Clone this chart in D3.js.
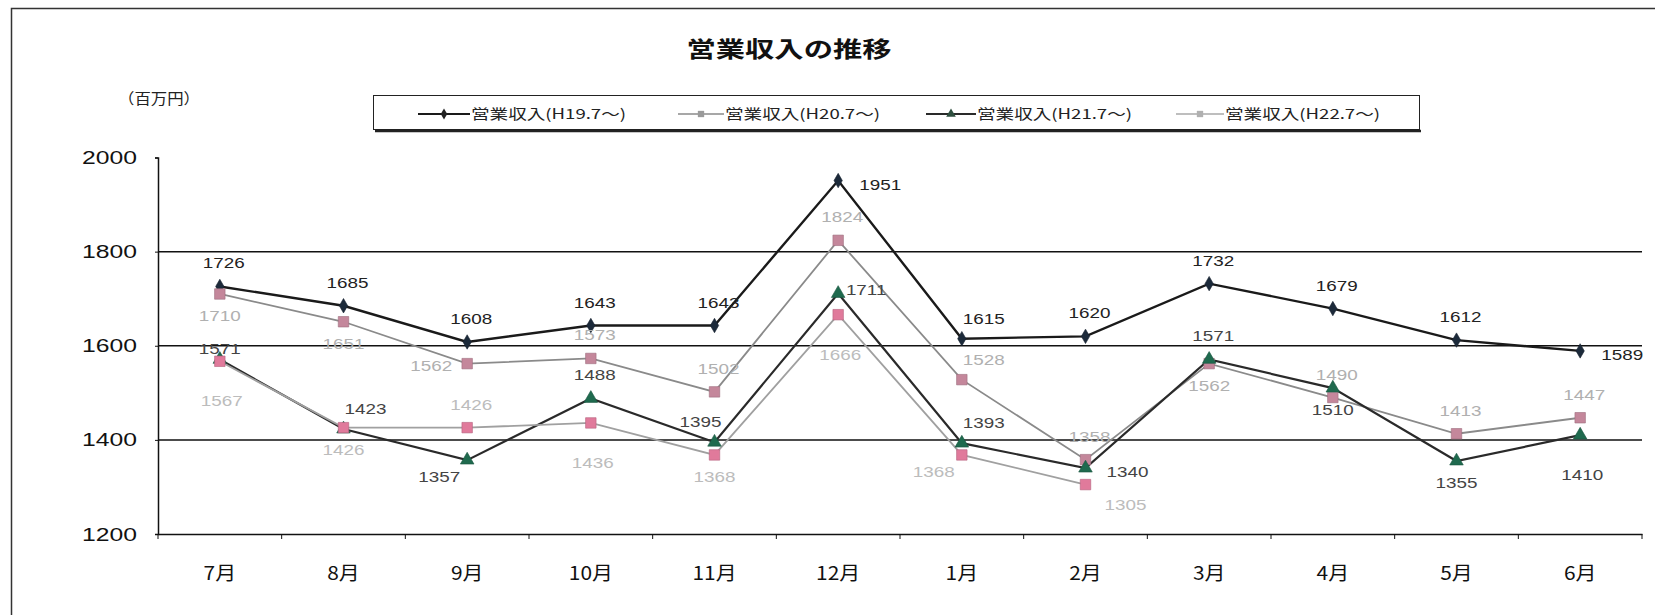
<!DOCTYPE html>
<html><head><meta charset="utf-8">
<script src="https://cdn.jsdelivr.net/npm/d3@7"></script>
<style>
html,body{margin:0;padding:0;background:#fff;}
svg{display:block;font-family:"Liberation Sans","Noto Sans CJK JP",sans-serif;}
.jp{font-family:"Noto Sans CJK JP","Liberation Sans",sans-serif;}
</style></head>
<body>
<svg id="c" width="1655" height="615"></svg>
<script>
const months = ["7月","8月","9月","10月","11月","12月","1月","2月","3月","4月","5月","6月"];
const seriesNames = ["営業収入(H19.7～)","営業収入(H20.7～)","営業収入(H21.7～)","営業収入(H22.7～)"];
const h19 = [1726,1685,1608,1643,1643,1951,1615,1620,1732,1679,1612,1589];
const h20 = [1710,1651,1562,1573,1502,1824,1528,1358,1562,1490,1413,1447];
const h21 = [1571,1423,1357,1488,1395,1711,1393,1340,1571,1510,1355,1410];
const h22 = [1567,1426,1426,1436,1368,1666,1368,1305];
const yTicks = [1200,1400,1600,1800,2000];
const gridTicks = [1400,1600,1800];

// label placement codes (layout only)
const placeA = ['t','t','t','t','t','r','tr','t','t','t','t','r'];
const placeB = ['b','b','l','t','t','t','tr','t','b','t','t','t'];
const placeC = ['ts','tr','bl','t','tl','rs','tr','r','t','b','b','bb'];
const placeD = ['bb','b','t','bb','b','bb','bl','br'];

(function(){
const offs = {t:[4,-23],ts:[0,-10],b:[0,22],bb:[2,40],r:[42,4],rs:[28,-4],l:[-36,2],tr:[22,-20],tl:[-14,-20],br:[40,20],bl:[-28,17]};

const svg = d3.select("#c");
const W=1655,H=615;
const pL=158,pR=1642,pT=157.5,pB=534;
const x = d3.scaleBand().domain(months).range([pL,pR]);
const cx = m => x(m)+x.bandwidth()/2;
const y = d3.scaleLinear().domain([1200,2000]).range([pB,pT]);

function stretch(sel,k){ sel.each(function(){ const w=this.getComputedTextLength(); d3.select(this).attr("textLength",w*k).attr("lengthAdjust","spacingAndGlyphs"); }); return sel; }

// outer frame
svg.append("path").attr("d",`M11.5,${H+2}V8.5H${W+2}`).attr("fill","none").attr("stroke","#333").attr("stroke-width",1.5);

// title
svg.append("text").attr("class","jp").attr("x",789).attr("y",57).attr("text-anchor","middle")
  .attr("font-size",22).attr("font-weight","bold").attr("fill","#111")
  .attr("textLength",205).attr("lengthAdjust","spacingAndGlyphs").text("営業収入の推移");

// unit
svg.append("text").attr("class","jp").attr("x",118).attr("y",104).attr("font-size",15).attr("fill","#222")
  .attr("textLength",82).attr("lengthAdjust","spacingAndGlyphs").text("（百万円）");

// legend
const lg = svg.append("g");
lg.append("rect").attr("x",373.5).attr("y",95.5).attr("width",1046).attr("height",34).attr("fill","#fff").attr("stroke","#222").attr("stroke-width",1);
lg.append("line").attr("x1",375).attr("x2",1421).attr("y1",131).attr("y2",131).attr("stroke","#222").attr("stroke-width",2.5);
const lgLine = [[418,470],[678,724],[926,976],[1176,1224]];
const lineCol = ["#1a1a1a","#8a8a8a","#2a2a2a","#a8a8a8"];
const lineW = [2,1.6,2,1.6];
const markCol = ["#222","#9a9a9a","#2f4f3f","#b0b0b0"];
const markShape = [d3.symbolDiamond,d3.symbolSquare,d3.symbolTriangle,d3.symbolSquare];
seriesNames.forEach((n,i)=>{
  const [a,b]=lgLine[i];
  lg.append("line").attr("x1",a).attr("x2",b).attr("y1",114).attr("y2",114).attr("stroke",lineCol[i]).attr("stroke-width",lineW[i]);
  lg.append("path").attr("d",d3.symbol(markShape[i],i===0?36:40)()).attr("transform",`translate(${(a+b)/2},114)`).attr("fill",markCol[i]);
  lg.append("text").attr("class","jp").attr("x",b+1).attr("y",119).attr("font-size",14).attr("fill","#222")
    .attr("textLength",155).attr("lengthAdjust","spacingAndGlyphs").text(n);
});

// grid
svg.append("g").selectAll("line").data(gridTicks).join("line")
  .attr("x1",pL).attr("x2",pR).attr("y1",d=>y(d)).attr("y2",d=>y(d)).attr("stroke","#111").attr("stroke-width",1.5);

// y axis
const ya = svg.append("g").attr("transform",`translate(${pL},0)`)
  .call(d3.axisLeft(y).tickValues(yTicks).tickSize(3).tickPadding(18).tickFormat(d3.format("d")));
ya.select(".domain").attr("stroke","#111").attr("stroke-width",1.5);
ya.selectAll(".tick line").attr("stroke","#111");
ya.selectAll("text").attr("font-size",19).attr("fill","#111").attr("font-family","Liberation Sans");
stretch(ya.selectAll("text"),1.3);

// x axis
const xa = svg.append("g").attr("transform",`translate(0,${pB})`)
  .call(d3.axisBottom(x).tickSize(0).tickPadding(33));
xa.select(".domain").attr("stroke","#111").attr("stroke-width",1.5);
xa.selectAll("text").attr("font-size",19).attr("fill","#111").attr("font-family","Noto Sans CJK JP");
stretch(xa.selectAll("text"),1.1);
svg.append("g").selectAll("line").data(months.concat(["end"])).join("line")
  .attr("x1",(d,i)=>pL+i*x.bandwidth()).attr("x2",(d,i)=>pL+i*x.bandwidth())
  .attr("y1",pB).attr("y2",pB+5).attr("stroke","#111");

// series
const series = [
  {v:h19,place:placeA,line:"#1a1a1a",w:2.4,shape:d3.symbolDiamond,size:60,fill:"#1c2a3a",lab:"#222"},
  {v:h20,place:placeB,line:"#8a8a8a",w:1.8,shape:d3.symbolSquare,size:110,fill:"#c4879b",lab:"#b0b0b0"},
  {v:h21,place:placeC,line:"#2a2a2a",w:2.2,shape:d3.symbolTriangle,size:80,fill:"#1f6a4e",lab:"#444"},
  {v:h22,place:placeD,line:"#a0a0a0",w:1.8,shape:d3.symbolSquare,size:110,fill:"#e07a9b",lab:"#bcbcbc"}
];
const line = d3.line().x((d,i)=>cx(months[i])).y(d=>y(d));
series.forEach(s=>{
  svg.append("path").datum(s.v).attr("d",line).attr("fill","none").attr("stroke",s.line).attr("stroke-width",s.w);
});
series.forEach(s=>{
  svg.append("g").selectAll("path").data(s.v).join("path")
    .attr("d",d3.symbol(s.shape,s.size)())
    .attr("transform",(d,i)=>`translate(${cx(months[i])},${y(d)})`)
    .attr("fill",s.fill).attr("stroke",d3.color(s.fill).darker(0.6)).attr("stroke-width",0.6);
});
series.forEach(s=>{
  const t = svg.append("g").selectAll("text").data(s.v).join("text")
    .attr("x",(d,i)=>cx(months[i])+offs[s.place[i]][0])
    .attr("y",(d,i)=>y(d)+offs[s.place[i]][1]+5)
    .attr("text-anchor","middle").attr("font-size",14.5).attr("fill",s.lab)
    .text(d=>d);
  stretch(t,1.3);
});
})();
</script>
</body></html>
